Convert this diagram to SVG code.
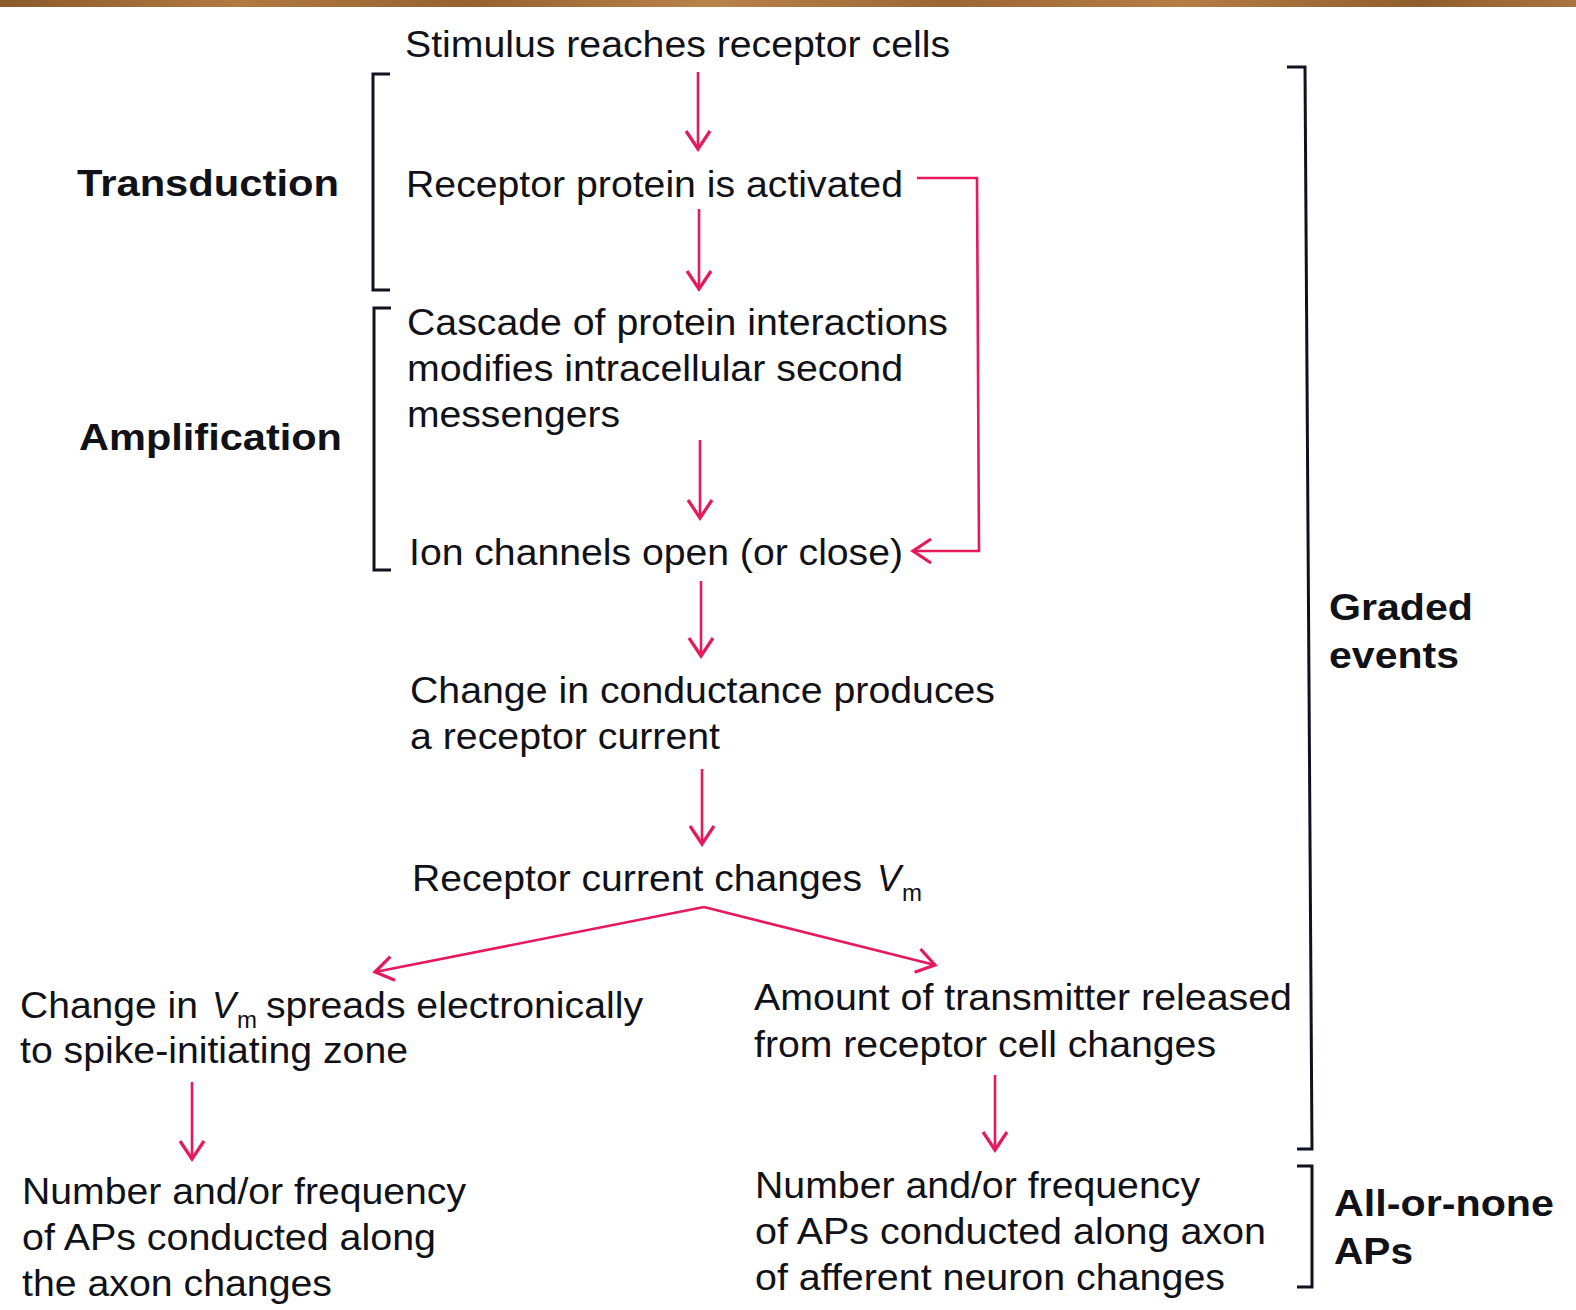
<svg xmlns="http://www.w3.org/2000/svg" width="1576" height="1310" viewBox="0 0 1576 1310">
<defs>
<linearGradient id="wood" x1="0" y1="0" x2="1" y2="0">
<stop offset="0" stop-color="#8a5a2c"/>
<stop offset="0.15" stop-color="#b07a40"/>
<stop offset="0.3" stop-color="#946230"/>
<stop offset="0.45" stop-color="#b8844a"/>
<stop offset="0.6" stop-color="#9a6634"/>
<stop offset="0.75" stop-color="#b47e44"/>
<stop offset="0.9" stop-color="#8e5e2e"/>
<stop offset="1" stop-color="#a87440"/>
</linearGradient>
<marker id="ah" markerUnits="userSpaceOnUse" markerWidth="40" markerHeight="40" viewBox="-25 -20 30 40" refX="0" refY="0" orient="auto">
<path d="M-18,-12 L0,0 L-18,12" fill="none" stroke="#e5195c" stroke-width="3.2" stroke-linejoin="miter"/>
</marker>
</defs>
<style>
text{font-family:"Liberation Sans",Arial,Helvetica,sans-serif;font-size:36px;fill:#111118}
.b{font-weight:bold}
.i{font-style:italic}
.sub{font-size:24px}
.br{fill:none;stroke:#111122;stroke-width:3}
.ar{fill:none;stroke:#e5195c;stroke-width:2.6}
</style>
<rect x="0" y="0" width="1576" height="1310" fill="#ffffff"/>
<rect x="0" y="0" width="1576" height="7" fill="url(#wood)"/>

<g id="connectors">
<line class="ar" x1="698" y1="72" x2="698" y2="149" marker-end="url(#ah)"/>
<line class="ar" x1="699" y1="209" x2="699" y2="289" marker-end="url(#ah)"/>
<line class="ar" x1="700" y1="440" x2="700" y2="518" marker-end="url(#ah)"/>
<line class="ar" x1="701" y1="581" x2="701" y2="656" marker-end="url(#ah)"/>
<line class="ar" x1="702" y1="769" x2="702" y2="844" marker-end="url(#ah)"/>
<line class="ar" x1="192" y1="1082" x2="192" y2="1159" marker-end="url(#ah)"/>
<line class="ar" x1="995" y1="1075" x2="995" y2="1150" marker-end="url(#ah)"/>
<polyline class="ar" points="917,178 977,178 979,551 913,551" marker-end="url(#ah)"/>
<line class="ar" x1="704" y1="907" x2="375" y2="972" marker-end="url(#ah)"/>
<line class="ar" x1="704" y1="907" x2="935" y2="965" marker-end="url(#ah)"/>
</g>

<g id="brackets">
<polyline class="br" points="390,74 373,74 373,290 390,290"/>
<polyline class="br" points="391,308 374,308 374,570 391,570"/>
<polyline class="br" points="1287,67 1305,67 1312,1149 1297,1149"/>
<polyline class="br" points="1297,1166 1312,1166 1312,1287 1297,1287"/>
</g>

<g id="label-transduction"><text class="b" x="77" y="196" textLength="262" lengthAdjust="spacingAndGlyphs">Transduction</text></g>
<g id="label-amplification"><text class="b" x="79" y="450" textLength="263" lengthAdjust="spacingAndGlyphs">Amplification</text></g>
<g id="label-graded">
<text class="b" x="1329" y="620" textLength="144" lengthAdjust="spacingAndGlyphs">Graded</text>
<text class="b" x="1329" y="668" textLength="130" lengthAdjust="spacingAndGlyphs">events</text>
</g>
<g id="label-allornone">
<text class="b" x="1334" y="1216" textLength="220" lengthAdjust="spacingAndGlyphs">All-or-none</text>
<text class="b" x="1334" y="1264" textLength="79" lengthAdjust="spacingAndGlyphs">APs</text>
</g>

<g id="node-stimulus"><text x="405" y="57" textLength="545" lengthAdjust="spacingAndGlyphs">Stimulus reaches receptor cells</text></g>
<g id="node-receptor"><text x="406" y="197" textLength="497" lengthAdjust="spacingAndGlyphs">Receptor protein is activated</text></g>
<g id="node-cascade">
<text x="407" y="335" textLength="541" lengthAdjust="spacingAndGlyphs">Cascade of protein interactions</text>
<text x="407" y="381" textLength="496" lengthAdjust="spacingAndGlyphs">modifies intracellular second</text>
<text x="407" y="427" textLength="213" lengthAdjust="spacingAndGlyphs">messengers</text>
</g>
<g id="node-ion"><text x="409" y="565" textLength="494" lengthAdjust="spacingAndGlyphs">Ion channels open (or close)</text></g>
<g id="node-conductance">
<text x="410" y="703" textLength="585" lengthAdjust="spacingAndGlyphs">Change in conductance produces</text>
<text x="410" y="749" textLength="310" lengthAdjust="spacingAndGlyphs">a receptor current</text>
</g>
<g id="node-vm">
<text x="412" y="891" textLength="450" lengthAdjust="spacingAndGlyphs">Receptor current changes</text>
<text class="i" x="877" y="891">V</text>
<text class="sub" x="902" y="901">m</text>
</g>
<g id="node-spread">
<text x="20" y="1018" textLength="178" lengthAdjust="spacingAndGlyphs">Change in</text>
<text class="i" x="212" y="1018">V</text>
<text class="sub" x="237" y="1028">m</text>
<text x="266" y="1018" textLength="377" lengthAdjust="spacingAndGlyphs">spreads electronically</text>
<text x="20" y="1063" textLength="388" lengthAdjust="spacingAndGlyphs">to spike-initiating zone</text>
</g>
<g id="node-transmitter">
<text x="754" y="1010" textLength="538" lengthAdjust="spacingAndGlyphs">Amount of transmitter released</text>
<text x="754" y="1057" textLength="462" lengthAdjust="spacingAndGlyphs">from receptor cell changes</text>
</g>
<g id="node-aps-left">
<text x="22" y="1204" textLength="444" lengthAdjust="spacingAndGlyphs">Number and/or frequency</text>
<text x="22" y="1250" textLength="414" lengthAdjust="spacingAndGlyphs">of APs conducted along</text>
<text x="22" y="1296" textLength="310" lengthAdjust="spacingAndGlyphs">the axon changes</text>
</g>
<g id="node-aps-right">
<text x="755" y="1198" textLength="445" lengthAdjust="spacingAndGlyphs">Number and/or frequency</text>
<text x="755" y="1244" textLength="511" lengthAdjust="spacingAndGlyphs">of APs conducted along axon</text>
<text x="755" y="1290" textLength="470" lengthAdjust="spacingAndGlyphs">of afferent neuron changes</text>
</g>
</svg>
